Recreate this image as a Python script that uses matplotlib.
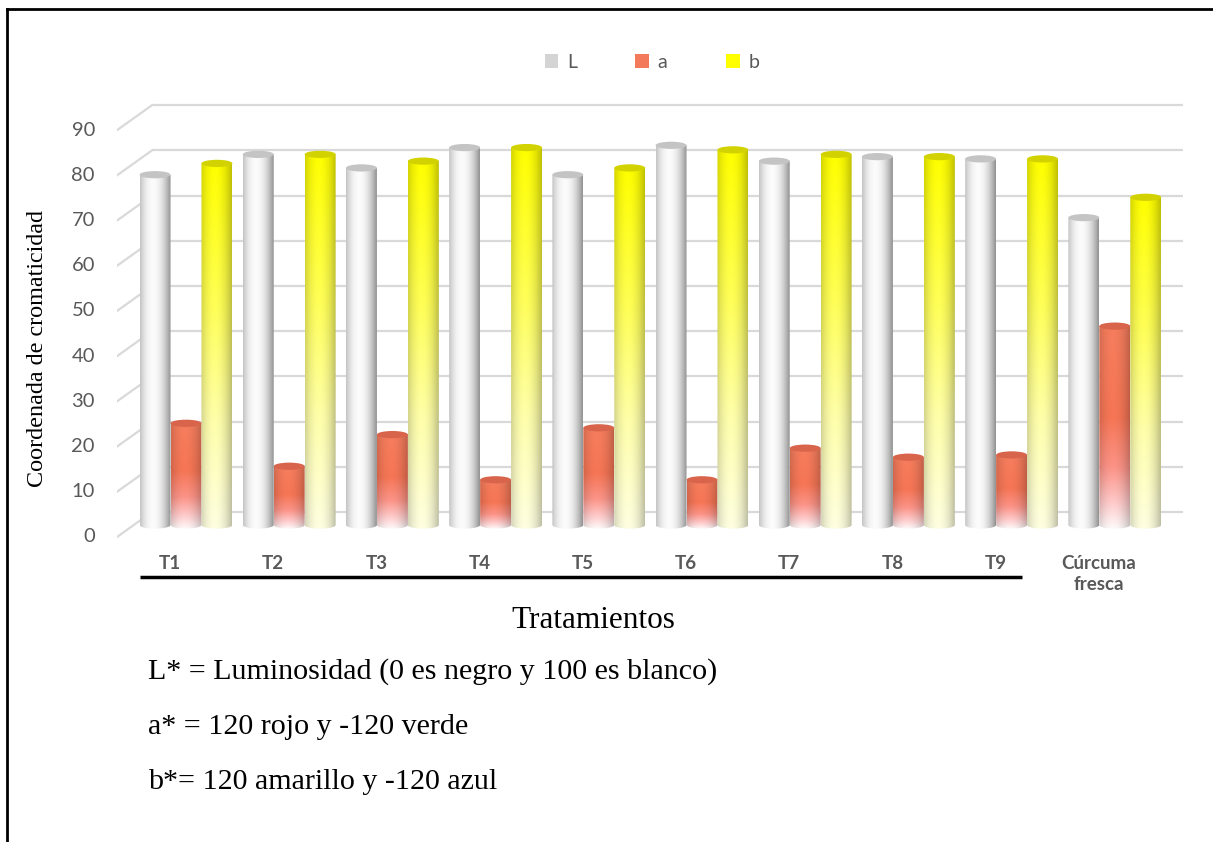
import numpy as np
import matplotlib
matplotlib.use('Agg')
import matplotlib.pyplot as plt
from matplotlib.patches import Ellipse, Polygon, Patch

# data
categories = ['T1', 'T2', 'T3', 'T4', 'T5', 'T6', 'T7', 'T8', 'T9', 'Cúrcuma\nfresca']
L_vals = [77.5, 82, 79, 83.5, 77.5, 84, 80.5, 81.5, 81, 68]
a_vals = [22.5, 13, 20, 10, 21.5, 10, 17, 15, 15.5, 44]
b_vals = [80, 82, 80.5, 83.5, 79, 83, 82, 81.5, 81, 72.5]
yticks = [0, 10, 20, 30, 40, 50, 60, 70, 80, 90]

GRAY = '#595959'
SERIF = 'Liberation Serif'
SANS = 'Lato'

W, H = 1213, 842
fig = plt.figure(figsize=(W / 100, H / 100), dpi=100)

# axes placed so one category = ~103 px and 10 units = ~45 px
px_l, px_r, px_t, px_b = 117, 1183, 100, 545
ax = fig.add_axes([px_l / W, 1 - px_b / H, (px_r - px_l) / W, (px_b - px_t) / H])
unit_x = 103.2
x0_px = 186
def xd(p):
    return (p - x0_px) / unit_x
def yd(p):
    return (525 - p) / 4.52
xlim = (xd(px_l), xd(px_r))
ylim = (yd(px_b), yd(px_t))
ax.axis('off')

# pseudo-3D walls: back gridlines + diagonal side lines
back_off = 2.88
front_off = -2.65
x_back = xd(152)
for v in yticks:
    ax.plot([x_back, xlim[1]], [v + back_off, v + back_off], color='#d9d9d9', lw=1.6, zorder=1, solid_capstyle='butt')
    ax.plot([xlim[0], x_back], [v + front_off, v + back_off], color='#d9d9d9', lw=1.6, zorder=1)
    ax.text(xd(95), v + front_off, str(v), ha='right', va='center', fontsize=14.5,
            color=GRAY, family=SANS, clip_on=False)


def grad_L(u, t):
    # horizontal metallic gray
    s = 1 - 0.42 * ((u - 0.42) / 0.58) ** 2
    base = np.ones(t.shape + (3,)) * 252
    return base * s[..., None]


def grad_a(u, t):
    stops_t = [0.0, 0.12, 0.3, 0.55, 1.0]
    cols = np.array([[255, 250, 250], [255, 205, 205], [252, 148, 136], [246, 118, 86], [246, 126, 94]])
    base = np.stack([np.interp(t, stops_t, cols[:, k]) for k in range(3)], axis=-1)
    s = 1 - 0.22 * ((u - 0.45) / 0.55) ** 2
    return base * s[..., None]


def grad_b(u, t):
    stops_t = [0.0, 0.3, 0.6, 1.0]
    cols = np.array([[255, 255, 225], [255, 255, 170], [255, 255, 90], [255, 255, 0]])
    base = np.stack([np.interp(t, stops_t, cols[:, k]) for k in range(3)], axis=-1)
    s = 1 - 0.25 * ((u - 0.45) / 0.55) ** 2
    return base * s[..., None]


bw = 0.30
cap_h = 1.6
x = np.arange(len(categories))
series = [
    (L_vals, -bw, grad_L, '#c4c4c4'),
    (a_vals, 0.0, grad_a, '#d8644b'),
    (b_vals, bw, grad_b, '#d2d200'),
]

for vals, off, gfun, capc in series:
    bars = ax.bar(x + off, vals, width=bw, color='none', edgecolor='none', zorder=3)
    for rect in bars:
        bx, bwid, bh = rect.get_x(), rect.get_width(), rect.get_height()
        xc = bx + bwid / 2
        # outline: rectangle with elliptic bottom
        th = np.linspace(np.pi, 2 * np.pi, 40)
        bottom = np.column_stack([xc + bwid / 2 * np.cos(th), cap_h / 2 * np.sin(th)])
        pts = np.vstack([[bx, bh], bottom, [bx + bwid, bh]])
        clip = Polygon(pts, closed=True, facecolor='none', edgecolor='none', transform=ax.transData)
        ax.add_patch(clip)
        u = np.linspace(0, 1, 60)
        t = np.linspace(0, 1, 120)
        U, T = np.meshgrid(u, t)
        img = np.clip(gfun(U, T), 0, 255).astype(np.uint8)
        im = ax.imshow(img, extent=[bx, bx + bwid, -cap_h / 2, bh], origin='lower',
                       aspect='auto', interpolation='bilinear', zorder=3)
        im.set_clip_path(clip)
        ax.add_patch(Ellipse((xc, bh), bwid, cap_h, facecolor=capc, edgecolor='none', zorder=4))

ax.set_xlim(xlim)
ax.set_ylim(ylim)

# category labels and axis line
for i, c in enumerate(categories):
    ax.text(i - 0.155, yd(555), c, ha='center', va='top', fontsize=13.5, fontweight='bold',
            color=GRAY, family=SANS, linespacing=1.3, clip_on=False)
ax.plot([xd(140), xd(1022)], [yd(577), yd(577)], color='black', lw=2.5, clip_on=False,
        solid_capstyle='butt')

# legend
handles = [Patch(facecolor='#d4d4d4'), Patch(facecolor='#f47a5c'), Patch(facecolor='#ffff00')]
fig.legend(handles, ['L', 'a', 'b'], loc='center', bbox_to_anchor=(652 / W, 1 - 62 / H), ncol=3,
           frameon=False, handlelength=0.7, handleheight=0.7,
           handletextpad=0.45, columnspacing=3.0, labelcolor=GRAY, prop={'family': SANS, 'size': 14})

# titles and notes
fig.text(38 / W, 1 - 348 / H, 'Coordenada de cromaticidad', rotation=90, ha='center', va='center',
         fontsize=17.4, family=SERIF)
fig.text(593 / W, 1 - 620 / H, 'Tratamientos', ha='center', va='center', fontsize=22.5, family=SERIF)
notes = ['L* = Luminosidad (0 es negro y 100 es blanco)', 'a* = 120 rojo y -120 verde',
         'b*= 120 amarillo y -120 azul']
for k, n in enumerate(notes):
    fig.text(148 / W, 1 - (672 + 55 * k) / H, n, ha='left', va='center', fontsize=21.6, family=SERIF)

# border (top and left edge of frame)
fig.add_artist(plt.Line2D([7 / W, 1], [1 - 9 / H, 1 - 9 / H], color='black', lw=2))
fig.add_artist(plt.Line2D([7 / W, 7 / W], [0, 1 - 9 / H], color='black', lw=2))

fig.savefig('out.png', dpi=100)
